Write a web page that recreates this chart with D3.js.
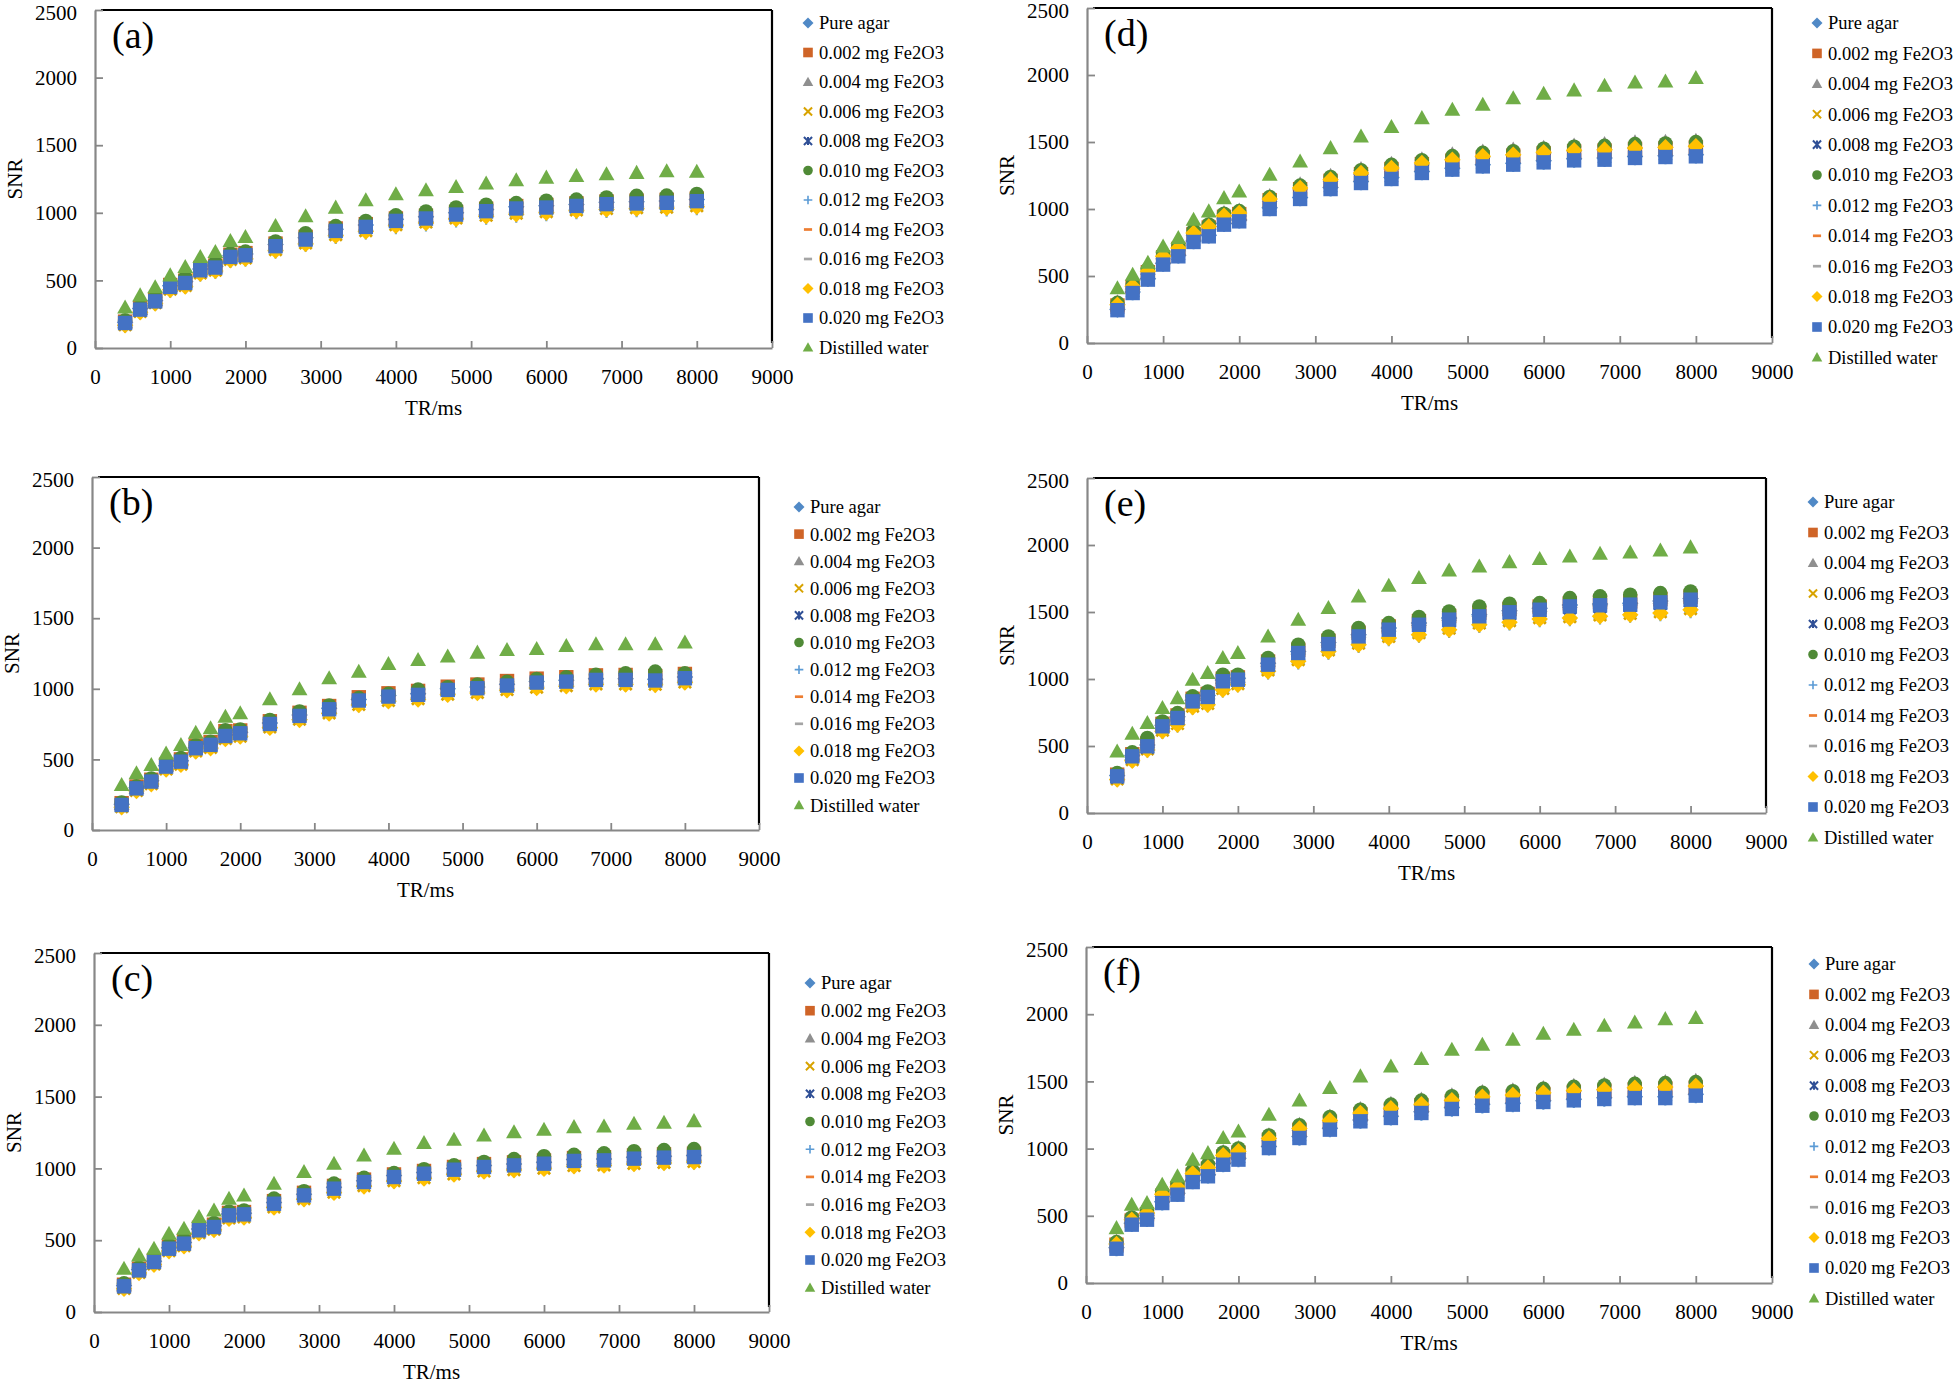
<!DOCTYPE html>
<html>
<head>
<meta charset="utf-8">
<script src="https://cdn.jsdelivr.net/npm/d3@7"></script>
<style>
  body { margin: 0; background: #fff; }
  svg { display: block; font-family: "Liberation Serif", "Times New Roman", serif; }
</style>
</head>
<body>
<svg id="chart" width="1960" height="1384"></svg>
<script>
// TR values (ms) shared by all panels
const trValues = [400, 600, 800, 1000, 1200, 1400, 1600, 1800, 2000, 2400, 2800, 3200, 3600, 4000, 4400, 4800, 5200, 5600, 6000, 6400, 6800, 7200, 7600, 8000];

const seriesNames = ['Pure agar', '0.002 mg Fe2O3', '0.004 mg Fe2O3', '0.006 mg Fe2O3', '0.008 mg Fe2O3', '0.010 mg Fe2O3',
  '0.012 mg Fe2O3', '0.014 mg Fe2O3', '0.016 mg Fe2O3', '0.018 mg Fe2O3', '0.020 mg Fe2O3', 'Distilled water'];
const seriesShapes = ['diamond', 'square', 'triangle', 'x', 'star', 'circle', 'plus', 'dash', 'dash', 'diamond', 'square', 'triangle'];
const seriesColors = ['#5089c6', '#cf6427', '#8f8f8f', '#d8a300', '#2f4f96', '#4f8a36', '#5b9bd5', '#ed7d31', '#a5a5a5', '#ffc000', '#4472c4', '#70ad47'];

const xTicks = [0, 1000, 2000, 3000, 4000, 5000, 6000, 7000, 8000, 9000];
const yTicks = [0, 500, 1000, 1500, 2000, 2500];
const panelLabels = ['(a)', '(b)', '(c)', '(d)', '(e)', '(f)'];

// SNR per series (rows in seriesNames order), one array per panel
const snrA = [
  [190,292,352,460,492,585,605,684,696,765,815,878,910,952,970,1000,1025,1045,1052,1062,1078,1082,1088,1098],
  [195,296,358,466,498,592,610,690,702,772,822,884,916,958,978,1006,1030,1050,1058,1070,1084,1090,1096,1105],
  [192,290,355,462,495,588,606,686,698,768,818,880,912,955,975,1002,1028,1048,1055,1066,1080,1086,1092,1102],
  [172,270,335,435,462,556,576,655,666,728,778,838,868,912,932,962,982,998,1008,1022,1032,1038,1042,1052],
  [182,280,342,448,478,570,590,670,680,748,798,860,890,935,952,982,1005,1025,1032,1046,1058,1062,1068,1080],
  [205,305,372,478,520,616,632,700,714,788,850,902,940,982,1010,1040,1060,1072,1090,1098,1114,1126,1128,1140],
  [160,258,322,420,448,540,560,640,650,710,760,818,850,890,910,940,960,975,985,1000,1010,1015,1020,1030],
  [178,276,338,444,472,566,585,664,676,742,790,852,884,928,946,975,998,1018,1026,1040,1052,1058,1062,1074],
  [176,274,336,440,470,562,582,660,672,738,786,848,880,924,942,970,994,1014,1022,1035,1048,1054,1058,1070],
  [168,265,330,430,455,550,570,650,660,720,770,830,862,905,925,955,975,990,1000,1015,1025,1030,1035,1045],
  [185,284,345,452,481,575,595,674,686,753,802,866,896,940,958,987,1012,1032,1039,1051,1064,1069,1074,1086],
  [300,390,450,538,600,674,711,792,822,903,975,1039,1093,1138,1167,1192,1217,1241,1261,1273,1286,1296,1308,1305]
];
const snrB = [
  [182,300,348,455,490,585,610,672,692,758,815,862,925,952,965,1000,1012,1032,1052,1060,1072,1072,1068,1084],
  [190,308,356,462,500,598,622,700,705,770,830,878,940,968,985,1015,1030,1055,1072,1082,1095,1098,1090,1105],
  [186,302,352,458,494,590,615,680,698,764,822,868,932,960,975,1008,1020,1040,1060,1068,1080,1082,1078,1094],
  [165,280,328,432,466,560,585,648,665,730,785,830,890,918,930,962,975,995,1012,1022,1035,1035,1032,1048],
  [178,294,342,448,482,577,600,664,682,748,805,852,914,942,955,990,1002,1020,1040,1048,1060,1060,1056,1072],
  [195,310,365,470,510,600,625,706,712,780,840,882,935,965,995,1012,1030,1050,1070,1082,1099,1110,1122,1110],
  [158,272,322,425,458,552,578,640,658,722,778,822,880,910,922,955,968,985,1002,1015,1025,1025,1022,1040],
  [172,288,338,442,476,570,594,658,676,742,798,845,905,935,948,982,995,1012,1032,1042,1052,1052,1050,1065],
  [170,285,335,438,472,566,590,654,672,738,794,840,900,930,944,978,990,1008,1028,1038,1048,1048,1046,1060],
  [162,276,325,428,462,556,580,645,662,725,780,825,885,912,925,958,970,990,1005,1018,1030,1030,1028,1044],
  [177,295,343,449,484,579,603,666,685,751,808,855,917,945,957,992,1004,1023,1044,1051,1063,1063,1059,1075],
  [320,402,461,543,602,690,721,803,827,926,997,1075,1122,1177,1205,1229,1257,1276,1283,1304,1316,1316,1316,1328]
];
const snrC = [
  [184,296,354,448,484,578,600,682,688,762,820,868,914,950,972,1000,1020,1030,1042,1062,1066,1078,1084,1090],
  [190,302,360,455,492,586,608,690,696,772,830,878,922,958,982,1010,1030,1042,1055,1072,1078,1090,1098,1102],
  [187,298,356,452,488,582,604,686,692,766,825,872,918,955,978,1005,1025,1036,1048,1066,1072,1084,1092,1096],
  [165,276,334,428,462,552,576,655,662,732,790,835,880,915,936,962,982,992,1002,1020,1025,1035,1042,1048],
  [176,288,345,438,474,566,588,670,677,750,808,855,900,936,958,986,1006,1016,1028,1048,1052,1064,1070,1076],
  [200,310,370,468,505,600,620,700,708,790,842,895,935,968,995,1022,1045,1065,1085,1095,1105,1120,1128,1135],
  [158,268,326,420,455,545,568,645,652,722,780,825,870,905,925,952,972,982,992,1010,1015,1025,1032,1038],
  [172,284,342,434,470,562,584,665,672,745,802,848,894,930,952,980,1000,1010,1022,1040,1045,1058,1064,1070],
  [170,282,340,432,468,560,582,662,670,742,798,845,890,926,948,976,996,1006,1018,1036,1042,1054,1060,1066],
  [162,272,330,424,458,548,572,650,658,728,785,830,875,910,930,958,978,988,998,1015,1020,1030,1038,1044],
  [179,290,348,441,476,569,592,673,680,754,812,859,905,940,963,991,1010,1021,1033,1052,1056,1068,1075,1079],
  [302,395,441,545,580,662,708,789,812,894,975,1033,1091,1137,1177,1200,1230,1253,1270,1288,1293,1311,1318,1330]
];
const snrD = [
  [250,380,480,595,655,762,805,892,918,1010,1085,1160,1205,1235,1280,1305,1330,1342,1360,1375,1380,1392,1398,1405],
  [280,418,528,640,702,812,862,942,962,1066,1148,1210,1260,1298,1335,1360,1385,1398,1415,1430,1436,1448,1452,1460],
  [305,445,555,670,730,845,890,970,990,1098,1185,1248,1300,1338,1372,1410,1430,1445,1458,1475,1485,1498,1502,1510],
  [282,420,530,642,705,815,865,945,965,1070,1150,1212,1262,1300,1338,1362,1388,1400,1418,1432,1438,1450,1455,1462],
  [258,388,488,602,662,770,812,900,925,1018,1094,1168,1212,1242,1288,1312,1338,1350,1368,1382,1388,1400,1406,1412],
  [300,440,550,665,725,840,885,965,985,1090,1175,1240,1290,1330,1365,1395,1420,1432,1450,1465,1472,1485,1490,1500],
  [240,368,468,580,642,748,790,876,902,994,1068,1142,1188,1218,1262,1288,1312,1325,1342,1357,1362,1375,1382,1388],
  [268,405,515,628,690,800,848,930,950,1055,1135,1198,1248,1286,1322,1348,1372,1385,1402,1418,1424,1436,1442,1450],
  [272,410,520,632,695,805,852,935,955,1060,1140,1204,1254,1292,1328,1354,1378,1390,1408,1424,1430,1442,1446,1455],
  [286,423,535,647,709,821,870,950,970,1075,1157,1219,1269,1306,1343,1368,1393,1405,1423,1438,1443,1455,1460,1468],
  [245,373,473,585,647,754,796,883,908,1000,1075,1149,1194,1224,1269,1294,1318,1331,1348,1363,1368,1381,1388,1393],
  [410,510,600,721,784,920,983,1082,1132,1256,1356,1455,1542,1612,1679,1741,1779,1828,1861,1886,1920,1945,1953,1978]
];
const snrE = [
  [280,430,508,655,718,842,876,992,1005,1118,1205,1272,1330,1380,1418,1455,1480,1510,1528,1552,1560,1565,1582,1600],
  [286,438,520,665,728,852,888,1002,1012,1130,1218,1285,1345,1392,1432,1470,1495,1522,1540,1565,1575,1580,1598,1615],
  [290,442,530,672,735,860,895,1010,1018,1138,1228,1295,1355,1400,1442,1480,1508,1535,1548,1575,1588,1595,1608,1625],
  [255,398,478,618,668,798,818,930,966,1068,1145,1218,1268,1318,1345,1380,1418,1435,1458,1466,1478,1490,1502,1525],
  [268,415,490,638,700,822,856,972,985,1095,1182,1250,1305,1355,1392,1428,1455,1485,1505,1530,1538,1545,1560,1580],
  [298,453,560,684,746,871,908,1032,1032,1157,1256,1318,1381,1418,1463,1505,1542,1562,1567,1604,1617,1629,1642,1654],
  [245,385,462,600,650,782,800,910,950,1045,1120,1192,1242,1292,1318,1355,1392,1410,1435,1442,1455,1468,1480,1502],
  [262,408,485,630,690,812,845,960,975,1085,1170,1240,1295,1342,1380,1415,1442,1472,1492,1515,1525,1532,1548,1568],
  [260,405,482,626,686,808,840,955,972,1080,1165,1235,1290,1338,1375,1410,1438,1468,1488,1510,1520,1528,1542,1562],
  [250,390,470,610,659,790,808,920,958,1057,1132,1206,1256,1306,1331,1368,1405,1423,1448,1455,1468,1480,1493,1517],
  [274,423,498,647,709,833,866,983,995,1107,1194,1261,1318,1368,1405,1443,1468,1498,1517,1542,1550,1555,1572,1592],
  [460,592,672,784,858,995,1045,1157,1194,1318,1443,1530,1617,1697,1754,1811,1841,1873,1896,1915,1935,1945,1960,1983]
];
const snrF = [
  [262,445,482,605,668,762,805,890,928,1015,1090,1152,1212,1240,1275,1305,1330,1338,1356,1368,1378,1386,1386,1404],
  [285,465,512,648,705,805,850,940,970,1065,1140,1200,1255,1290,1322,1352,1378,1390,1406,1422,1430,1442,1448,1455],
  [310,492,545,685,740,840,885,975,1005,1100,1178,1240,1295,1335,1365,1398,1422,1435,1452,1468,1478,1490,1496,1505],
  [288,468,515,652,708,808,852,944,974,1068,1144,1204,1260,1294,1326,1356,1380,1393,1410,1426,1434,1446,1452,1458],
  [265,448,488,612,672,768,810,896,934,1022,1096,1158,1218,1246,1282,1312,1336,1345,1362,1375,1385,1392,1394,1410],
  [305,488,540,680,738,836,882,972,1002,1098,1175,1236,1290,1328,1358,1390,1415,1428,1445,1460,1470,1482,1488,1495],
  [248,428,465,588,650,745,788,872,910,996,1070,1132,1195,1220,1256,1286,1310,1318,1338,1350,1360,1368,1368,1386],
  [275,455,500,635,692,790,835,925,955,1050,1125,1185,1240,1275,1308,1340,1364,1375,1392,1408,1416,1428,1434,1442],
  [278,458,504,640,696,795,840,930,960,1055,1130,1190,1246,1280,1314,1345,1370,1380,1398,1414,1422,1434,1440,1448],
  [290,470,520,660,715,815,860,950,980,1075,1150,1210,1265,1300,1330,1360,1385,1398,1415,1432,1440,1452,1458,1465],
  [255,434,471,595,657,751,794,880,918,1004,1079,1141,1203,1228,1265,1295,1319,1327,1347,1359,1369,1376,1376,1394],
  [409,583,595,732,794,918,967,1079,1128,1252,1359,1451,1538,1612,1667,1736,1773,1810,1855,1885,1915,1939,1964,1972]
];

// Panel placement on the page
const panels = [
  { data: snrA, left: 95,   right: 772,  top: 10,  bottom: 348,  legX: 808,  legY: 23,  legDy: 29.5 },
  { data: snrB, left: 92,   right: 759,  top: 477, bottom: 830,  legX: 799,  legY: 507, legDy: 27.1 },
  { data: snrC, left: 94,   right: 769,  top: 953, bottom: 1312, legX: 810,  legY: 983, legDy: 27.7 },
  { data: snrD, left: 1087, right: 1772, top: 8,   bottom: 343,  legX: 1817, legY: 23,  legDy: 30.4 },
  { data: snrE, left: 1087, right: 1766, top: 478, bottom: 813,  legX: 1813, legY: 502, legDy: 30.5 },
  { data: snrF, left: 1086, right: 1772, top: 947, bottom: 1283, legX: 1814, legY: 964, legDy: 30.4 }
];

const AXIS_GRAY = '#878787';
const svg = d3.select('#chart');

// Draw a marker of a given shape centred at 0,0 with half-size s
function drawMarker(sel, shape, color, s) {
    if (shape === 'circle') {
        sel.append('circle').attr('r', s).attr('fill', color);
    } else if (shape === 'square') {
        sel.append('rect').attr('x', -s).attr('y', -s).attr('width', 2 * s).attr('height', 2 * s).attr('fill', color);
    } else if (shape === 'diamond') {
        sel.append('path').attr('d', `M0,${-s * 1.15}L${s * 1.15},0L0,${s * 1.15}L${-s * 1.15},0Z`).attr('fill', color);
    } else if (shape === 'triangle') {
        sel.append('path').attr('d', `M0,${-s * 1.1}L${s * 1.1},${s * 0.85}L${-s * 1.1},${s * 0.85}Z`).attr('fill', color);
    } else if (shape === 'x' || shape === 'star') {
        const k = s * 0.85;
        let d = `M${-k},${-k}L${k},${k}M${-k},${k}L${k},${-k}`;
        if (shape === 'star') d += `M0,${-k}L0,${k}`;
        sel.append('path').attr('d', d).attr('stroke', color).attr('stroke-width', Math.max(2, s * 0.38)).attr('fill', 'none');
    } else if (shape === 'plus') {
        const k = s * 0.9;
        sel.append('path').attr('d', `M${-k},0L${k},0M0,${-k}L0,${k}`).attr('stroke', color).attr('stroke-width', Math.max(1.6, s * 0.3)).attr('fill', 'none');
    } else if (shape === 'dash') {
        sel.append('rect').attr('x', -s * 0.85).attr('y', -s * 0.28).attr('width', s * 1.7).attr('height', s * 0.56).attr('fill', color);
    }
}

function drawPanel(p, idx) {
    const x = d3.scaleLinear().domain([0, 9000]).range([p.left, p.right]);
    const y = d3.scaleLinear().domain([0, 2500]).range([p.bottom, p.top]);
    const g = svg.append('g');

    // black frame on top and right
    g.append('line').attr('x1', p.left + 6).attr('x2', p.right).attr('y1', p.top).attr('y2', p.top)
        .attr('stroke', '#000').attr('stroke-width', 2.2);
    g.append('line').attr('x1', p.right).attr('x2', p.right).attr('y1', p.top).attr('y2', p.bottom - 5)
        .attr('stroke', '#000').attr('stroke-width', 2.2);

    const fmt = d3.format('d');
    const xAxis = g.append('g').attr('transform', `translate(0,${p.bottom})`)
        .call(d3.axisBottom(x).tickValues(xTicks).tickFormat(fmt).tickSize(-7).tickSizeOuter(0).tickPadding(21));
    const yAxis = g.append('g').attr('transform', `translate(${p.left},0)`)
        .call(d3.axisLeft(y).tickValues(yTicks).tickFormat(fmt).tickSize(-8).tickSizeOuter(0).tickPadding(18));
    [xAxis, yAxis].forEach(a => {
        a.select('.domain').attr('stroke', AXIS_GRAY).attr('stroke-width', 2.2);
        a.selectAll('.tick line').attr('stroke', AXIS_GRAY).attr('stroke-width', 1.8);
        a.selectAll('.tick text').attr('fill', '#000').style('font-size', '21px')
            .style('font-family', '"Liberation Serif", "Times New Roman", serif');
    });
    // keep the top label inside the page
    yAxis.selectAll('.tick text').filter(d => d === 2500).attr('y', 3);

    // axis titles
    g.append('text').attr('x', (p.left + p.right) / 2).attr('y', p.bottom + 60).attr('dy', '0.35em')
        .attr('text-anchor', 'middle').style('font-size', '21px').text('TR/ms');
    g.append('text').attr('transform', `translate(${p.left - 80},${(p.top + p.bottom) / 2}) rotate(-90)`)
        .attr('dy', '0.35em').attr('text-anchor', 'middle').style('font-size', '21px').text('SNR');

    // panel label
    g.append('text').attr('x', p.left + 17).attr('y', p.top + 38).style('font-size', '38px').text(panelLabels[idx]);

    // points, series drawn in order so later ones sit on top
    p.data.forEach((vals, si) => {
        const sg = g.append('g');
        vals.forEach((v, i) => {
            const m = sg.append('g').attr('transform', `translate(${x(trValues[i])},${y(v)})`);
            drawMarker(m, seriesShapes[si], seriesColors[si], 7.2);
        });
    });

    // legend
    const leg = g.append('g');
    seriesNames.forEach((name, si) => {
        const row = leg.append('g').attr('transform', `translate(${p.legX},${p.legY + si * p.legDy})`);
        drawMarker(row, seriesShapes[si], seriesColors[si], 4.8);
        row.append('text').attr('x', 11).attr('dy', '0.35em').style('font-size', '18.5px').text(name);
    });
}

panels.forEach(drawPanel);
</script>
</body>
</html>
